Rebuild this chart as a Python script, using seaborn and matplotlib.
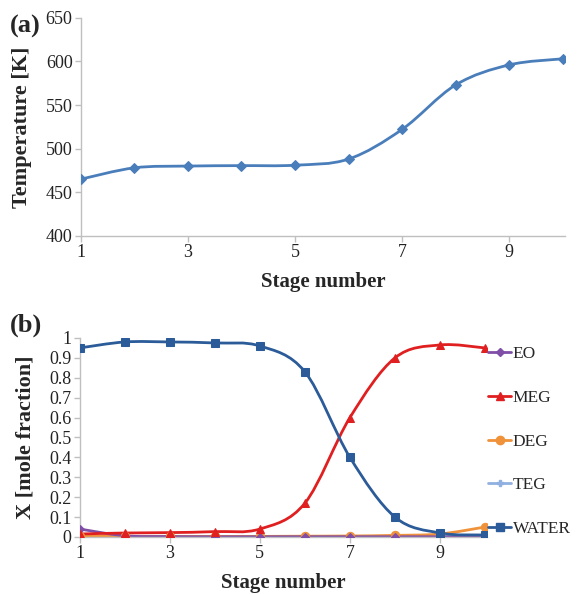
import numpy as np
import pandas as pd
import matplotlib
matplotlib.use("Agg")
import matplotlib.pyplot as plt
from matplotlib.path import Path
from matplotlib.patches import PathPatch
from matplotlib.lines import Line2D
import seaborn as sns

stages = [1, 2, 3, 4, 5, 6, 7, 8, 9, 10]
temperature = [465, 478, 480, 480.5, 481, 488, 522, 573, 596, 603]
eo = [0.04, 0.006, 0.002, 0.001, 0.001, 0.001, 0.001, 0.001, 0.001, 0.001]
meg = [0.015, 0.02, 0.022, 0.027, 0.04, 0.17, 0.60, 0.90, 0.965, 0.95]
deg = [0.003, 0.003, 0.003, 0.003, 0.003, 0.004, 0.005, 0.008, 0.015, 0.05]
teg = [0.0, 0.0, 0.0, 0.0, 0.0, 0.0, 0.0, 0.0, 0.0, 0.0]
water = [0.95, 0.98, 0.98, 0.975, 0.96, 0.83, 0.40, 0.10, 0.02, 0.01]
series_names = ["EO", "MEG", "DEG", "TEG", "WATER"]
x_ticks = [1, 3, 5, 7, 9]
temp_ticks = [400, 450, 500, 550, 600, 650]
frac_ticks = [0, 0.1, 0.2, 0.3, 0.4, 0.5, 0.6, 0.7, 0.8, 0.9, 1.0]
frac_labels = ["0", "0.1", "0.2", "0.3", "0.4", "0.5", "0.6", "0.7", "0.8", "0.9", "1"]

sns.set_theme(style="white")
plt.rcParams['font.family'] = ['Liberation Serif', 'DejaVu Serif']

fig = plt.figure(figsize=(5.78, 5.94), dpi=100)
ax1 = fig.add_axes([0.140, 0.603, 0.838, 0.367])
ax2 = fig.add_axes([0.138, 0.096, 0.705, 0.335])


def smooth_path(ax, xs, ys, color, lw=2.0):
    # Excel-style smoothed connector (Bezier through the data points)
    xs = np.asarray(xs, float)
    ys = np.asarray(ys, float)
    n = len(xs)
    verts = [(xs[0], ys[0])]
    codes = [Path.MOVETO]
    for i in range(n - 1):
        p0 = np.array([xs[max(i - 1, 0)], ys[max(i - 1, 0)]])
        p1 = np.array([xs[i], ys[i]])
        p2 = np.array([xs[i + 1], ys[i + 1]])
        p3 = np.array([xs[min(i + 2, n - 1)], ys[min(i + 2, n - 1)]])
        c1 = p1 + (p2 - p0) / 6.0
        c2 = p2 - (p3 - p1) / 6.0
        verts += [tuple(c1), tuple(c2), tuple(p2)]
        codes += [Path.CURVE4] * 3
    ax.add_patch(PathPatch(Path(verts, codes), fill=False, edgecolor=color,
                           lw=lw, transform=ax.transData, capstyle='round',
                           joinstyle='round', zorder=2))


def style_axes(ax):
    for s in ["top", "right"]:
        ax.spines[s].set_visible(False)
    for s in ["left", "bottom"]:
        ax.spines[s].set_color("#bfbfbf")
        ax.spines[s].set_linewidth(1.0)
    ax.tick_params(axis="both", which="major", direction="out", length=4,
                   width=1.0, color="#bfbfbf", labelsize=13, labelcolor="#222222",
                   left=True, bottom=True, pad=2)
    ax.grid(False)


# ---- (a) temperature ----
tcol = "#4a7ebb"
smooth_path(ax1, stages, temperature, tcol, lw=2.0)
sns.lineplot(x=stages, y=temperature, ax=ax1, color=tcol, linestyle="",
             marker="D", markersize=5, markeredgecolor=tcol, zorder=3)
ax1.set_xlim(1, 10.05)
ax1.set_ylim(400, 650)
ax1.set_xticks(x_ticks)
ax1.set_yticks(temp_ticks)
ax1.set_xlabel("Stage number", fontsize=15, fontweight="bold", labelpad=8)
ax1.set_ylabel("Temperature [K]", fontsize=16, fontweight="bold", labelpad=10)
style_axes(ax1)
fig.text(0.017, 0.955, "(a)", fontsize=19, fontweight="bold", ha="left", va="center")

# ---- (b) mole fractions ----
colors = ["#7f4fa8", "#e02020", "#f0923a", "#8fb0e0", "#2b5b98"]
markers = ["D", "^", "o", "P", "s"]
msizes = [4, 6, 6, 5, 6]
data = [eo, meg, deg, teg, water]
order = [3, 2, 0, 1, 4]  # draw TEG first, WATER on top
handles = {}
for k in order:
    col = colors[k]
    smooth_path(ax2, stages, data[k], col, lw=2.0)
    sns.lineplot(x=stages, y=data[k], ax=ax2, color=col, linestyle="",
                 marker=markers[k], markersize=msizes[k], markeredgecolor=col,
                 zorder=3)
for k in range(5):
    handles[k] = Line2D([0], [0], color=colors[k], lw=2, marker=markers[k],
                        markersize=msizes[k], markeredgecolor=colors[k])
ax2.set_xlim(1, 10.05)
ax2.set_ylim(0, 1.0)
ax2.set_xticks(x_ticks)
ax2.set_yticks(frac_ticks)
ax2.set_yticklabels(frac_labels)
ax2.set_xlabel("Stage number", fontsize=15, fontweight="bold", labelpad=8)
ax2.set_ylabel("X [mole fraction]", fontsize=16, fontweight="bold", labelpad=10)
style_axes(ax2)
ax2.spines["left"].set_bounds(0, 1.0)
leg = ax2.legend([handles[k] for k in range(5)], series_names,
                 loc="upper left", bbox_to_anchor=(1.003, 0.958), frameon=False,
                 fontsize=12.5, handlelength=1.3, handletextpad=0.1,
                 labelspacing=1.58, borderaxespad=0.0, borderpad=0.0)
fig.text(0.017, 0.452, "(b)", fontsize=19, fontweight="bold", ha="left", va="center")

fig.savefig("out.png", dpi=100)
